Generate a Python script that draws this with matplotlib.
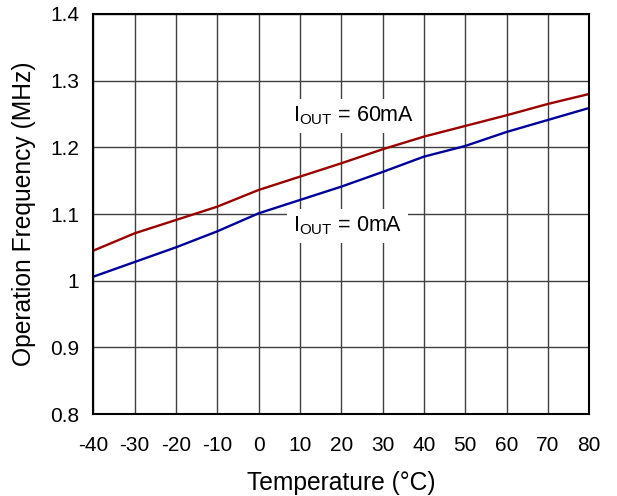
import matplotlib
matplotlib.use('Agg')
import matplotlib.pyplot as plt
import numpy as np

plt.rcParams['font.family'] = ['Liberation Sans', 'DejaVu Sans']
plt.rcParams['mathtext.fontset'] = 'custom'
plt.rcParams['mathtext.rm'] = 'Liberation Sans'
plt.rcParams['axes.unicode_minus'] = False

temp = [-40, -30, -20, -10, 0, 10, 20, 30, 40, 50, 60, 70, 80]
freq_60ma = [1.045, 1.071, 1.091, 1.111, 1.136, 1.156, 1.176, 1.197, 1.216, 1.232, 1.248, 1.265, 1.280]
freq_0ma = [1.006, 1.028, 1.050, 1.074, 1.101, 1.121, 1.141, 1.163, 1.186, 1.202, 1.223, 1.241, 1.259]

fig = plt.figure(figsize=(6.17, 4.96), dpi=100)
ax = fig.add_axes([0.151, 0.165, 0.804, 0.807])

ax.plot(temp, freq_60ma, color='#990000', lw=1.7)
ax.plot(temp, freq_0ma, color='#000099', lw=1.7)

ax.set_xlim(-40, 80)
ax.set_ylim(0.8, 1.4)
ax.set_xticks(np.arange(-40, 81, 10))
ax.set_yticks([0.8, 0.9, 1.0, 1.1, 1.2, 1.3, 1.4])
ax.set_yticklabels(['0.8', '0.9', '1', '1.1', '1.2', '1.3', '1.4'])
ax.grid(True, color='#404040', lw=1.0)
ax.set_axisbelow(True)
ax.tick_params(length=0, labelsize=15)
ax.tick_params(axis='x', pad=16)
ax.tick_params(axis='y', pad=10)
for s in ax.spines.values():
    s.set_linewidth(1.5)

ax.set_xlabel('Temperature (°C)', fontsize=17.7, labelpad=11)
ax.set_ylabel('Operation Frequency (MHz)', fontsize=17.7, labelpad=10)

ax.text(8.3, 1.247, r'I$_{\rm OUT}$ = 60mA', fontsize=15.5, va='center', ha='left',
        bbox=dict(facecolor='white', edgecolor='none', pad=4))
ax.text(8.3, 1.082, r'I$_{\rm OUT}$ = 0mA', fontsize=15.5, va='center', ha='left',
        bbox=dict(facecolor='white', edgecolor='none', pad=4))

fig.savefig('out.png', dpi=100)
